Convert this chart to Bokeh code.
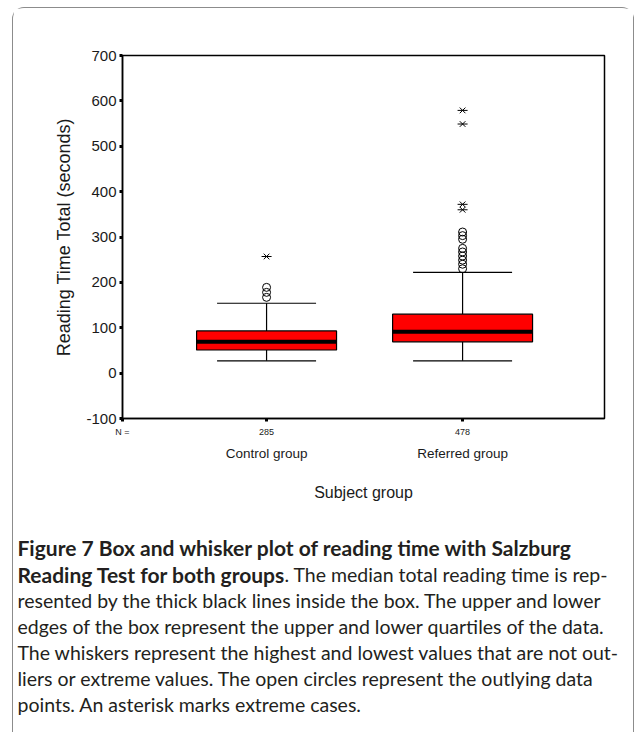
from bokeh.plotting import figure
from bokeh.models import Range1d, FixedTicker, LinearAxis
from bokeh.core.properties import value
from bokeh.embed import file_html
from bokeh.resources import INLINE

# ---- data ----
categories = ["Control group", "Referred group"]
n_cases = [285, 478]
q1 = [51, 69]
median = [69, 91]
q3 = [93, 130]
whisker_low = [27, 27]
whisker_high = [154, 222]
outliers_control = [167, 178, 189]
outliers_referred = [230, 240, 249, 258, 267, 275, 295, 303, 311]
extremes_control = [257]
extremes_referred = [360, 372, 549, 579]
y_ticks = [-100, 0, 100, 200, 300, 400, 500, 600, 700]

caption_bold_1 = "Figure 7 Box and whisker plot of reading time with Salzburg"
caption_bold_2 = "Reading Test for both groups"
caption_rest_2 = ". The median total reading time is rep-"
caption_lines = [
    "resented by the thick black lines inside the box. The upper and lower",
    "edges of the box represent the upper and lower quartiles of the data.",
    "The whiskers represent the highest and lowest values that are not out-",
    "liers or extreme values. The open circles represent the outlying data",
    "points. An asterisk marks extreme cases.",
]

# ---- layout constants ----
W = 622
H1, H2 = 516, 209
X0, X1 = 0.265, 2.724
BOX_W = 0.714
CAP_W = 0.505
FONT = "Liberation Sans"
CAP_FONT = "Lato"

xs = [i + 1 for i in range(len(categories))]

p = figure(width=W, height=H1, output_backend="svg", toolbar_location=None,
           x_range=Range1d(X0, X1), y_range=Range1d(-100, 700),
           min_border_left=109, min_border_right=31, min_border_top=47,
           min_border_bottom=H1 - 410)
p.styles = {"border": "1px solid #8c8c8c", "border-bottom": "none",
            "border-radius": "12px 12px 0 0", "margin-left": "12px",
            "margin-top": "7px"}
p.grid.visible = False
p.outline_line_color = "black"
p.outline_line_width = 1.5
p.background_fill_color = "white"
p.border_fill_color = "white"

# y axis
ya = p.yaxis[0]
ya.ticker = FixedTicker(ticks=y_ticks)
ya.major_label_overrides = {t: str(t) for t in y_ticks}
ya.axis_label = "Reading Time Total (seconds)"
ya.axis_label_text_font = FONT
ya.axis_label_text_font_style = "normal"
ya.axis_label_text_font_size = "18px"
ya.axis_label_text_color = "#1a1a1a"
ya.axis_label_standoff = 9
ya.major_label_text_font = FONT
ya.major_label_text_font_size = "15px"
ya.major_label_text_color = "#1a1a1a"
ya.major_label_standoff = 3
ya.axis_line_color = "black"
ya.axis_line_width = 1.5
ya.major_tick_line_color = "black"
ya.major_tick_line_width = 3
ya.major_tick_out = 3
ya.major_tick_in = 0
ya.minor_tick_line_color = None

# x axis (N counts)
xa = p.xaxis[0]
xa.ticker = FixedTicker(ticks=[X0] + xs)
overrides = {X0: "N ="}
for xv, nv in zip(xs, n_cases):
    overrides[xv] = str(nv)
xa.major_label_overrides = overrides
xa.major_label_text_font = FONT
xa.major_label_text_font_size = "9px"
xa.major_label_text_color = "#1a1a1a"
xa.major_label_standoff = 5
xa.axis_line_color = "black"
xa.axis_line_width = 1.5
xa.major_tick_line_color = "black"
xa.major_tick_line_width = 3
xa.major_tick_out = 3
xa.major_tick_in = 0
xa.minor_tick_line_color = None

# x axis (group names)
ax2 = LinearAxis(ticker=FixedTicker(ticks=xs),
                 major_label_overrides={xv: c for xv, c in zip(xs, categories)},
                 axis_label="Subject group",
                 axis_line_color=None, major_tick_line_color=None,
                 minor_tick_line_color=None, major_tick_out=0, major_tick_in=0,
                 major_label_standoff=6, axis_label_standoff=20,
                 major_label_text_font=FONT, major_label_text_font_size="13.5px",
                 major_label_text_color="#1a1a1a",
                 axis_label_text_font=FONT, axis_label_text_font_size="16px",
                 axis_label_text_font_style="normal", axis_label_text_color="#1a1a1a")
p.add_layout(ax2, "below")

# whiskers
p.segment(x0=xs, x1=xs, y0=q3, y1=whisker_high, line_color="black", line_width=1.2)
p.segment(x0=xs, x1=xs, y0=q1, y1=whisker_low, line_color="black", line_width=1.2)
p.segment(x0=[x - CAP_W / 2 for x in xs], x1=[x + CAP_W / 2 for x in xs],
          y0=whisker_high, y1=whisker_high, line_color="black", line_width=1.2)
p.segment(x0=[x - CAP_W / 2 for x in xs], x1=[x + CAP_W / 2 for x in xs],
          y0=whisker_low, y1=whisker_low, line_color="black", line_width=1.2)

# boxes
p.vbar(x=xs, width=BOX_W, top=q3, bottom=q1, fill_color="#ff0000",
       line_color="black", line_width=1.2)
p.segment(x0=[x - BOX_W / 2 for x in xs], x1=[x + BOX_W / 2 for x in xs],
          y0=median, y1=median, line_color="black", line_width=4)

# outliers
ox = [xs[0]] * len(outliers_control) + [xs[1]] * len(outliers_referred)
oy = outliers_control + outliers_referred
p.scatter(ox, oy, marker="circle", size=8, fill_color=None,
          line_color="black", line_width=1)
ex = [xs[0]] * len(extremes_control) + [xs[1]] * len(extremes_referred)
ey = extremes_control + extremes_referred
p.scatter(ex, ey, marker="x", size=8, line_color="black", line_width=1)
p.scatter(ex, ey, marker="dash", size=10, line_color="black", line_width=1)

# ---- caption figure (pixel coordinates, y downward), separate root ----
c = figure(width=W, height=H2, output_backend="svg", toolbar_location=None,
           x_range=Range1d(0, W), y_range=Range1d(H2, 0),
           min_border=0, x_axis_location=None, y_axis_location=None)
c.styles = {"border-left": "1px solid #8c8c8c", "border-right": "1px solid #8c8c8c",
            "margin-left": "12px"}
c.grid.visible = False
c.outline_line_color = None
c.background_fill_color = "white"
c.border_fill_color = "white"

CX = 4
line_y = [24, 51, 77, 103, 129, 155, 181]
TXT = "#231f20"
common = dict(text_font=value(CAP_FONT), text_color=TXT,
              text_baseline="middle", text_align="left")
c.text(x=[CX, CX], y=line_y[:2], text=[caption_bold_1, caption_bold_2],
       text_font_style="bold", text_font_size="21px", **common)
c.text(x=[271], y=[line_y[1]], text=[caption_rest_2], text_font_size="19.5px", **common)
c.text(x=[CX] * len(caption_lines), y=line_y[2:], text=caption_lines,
       text_font_size="19.5px", **common)

open("out.html", "w").write(file_html([p, c], INLINE))
